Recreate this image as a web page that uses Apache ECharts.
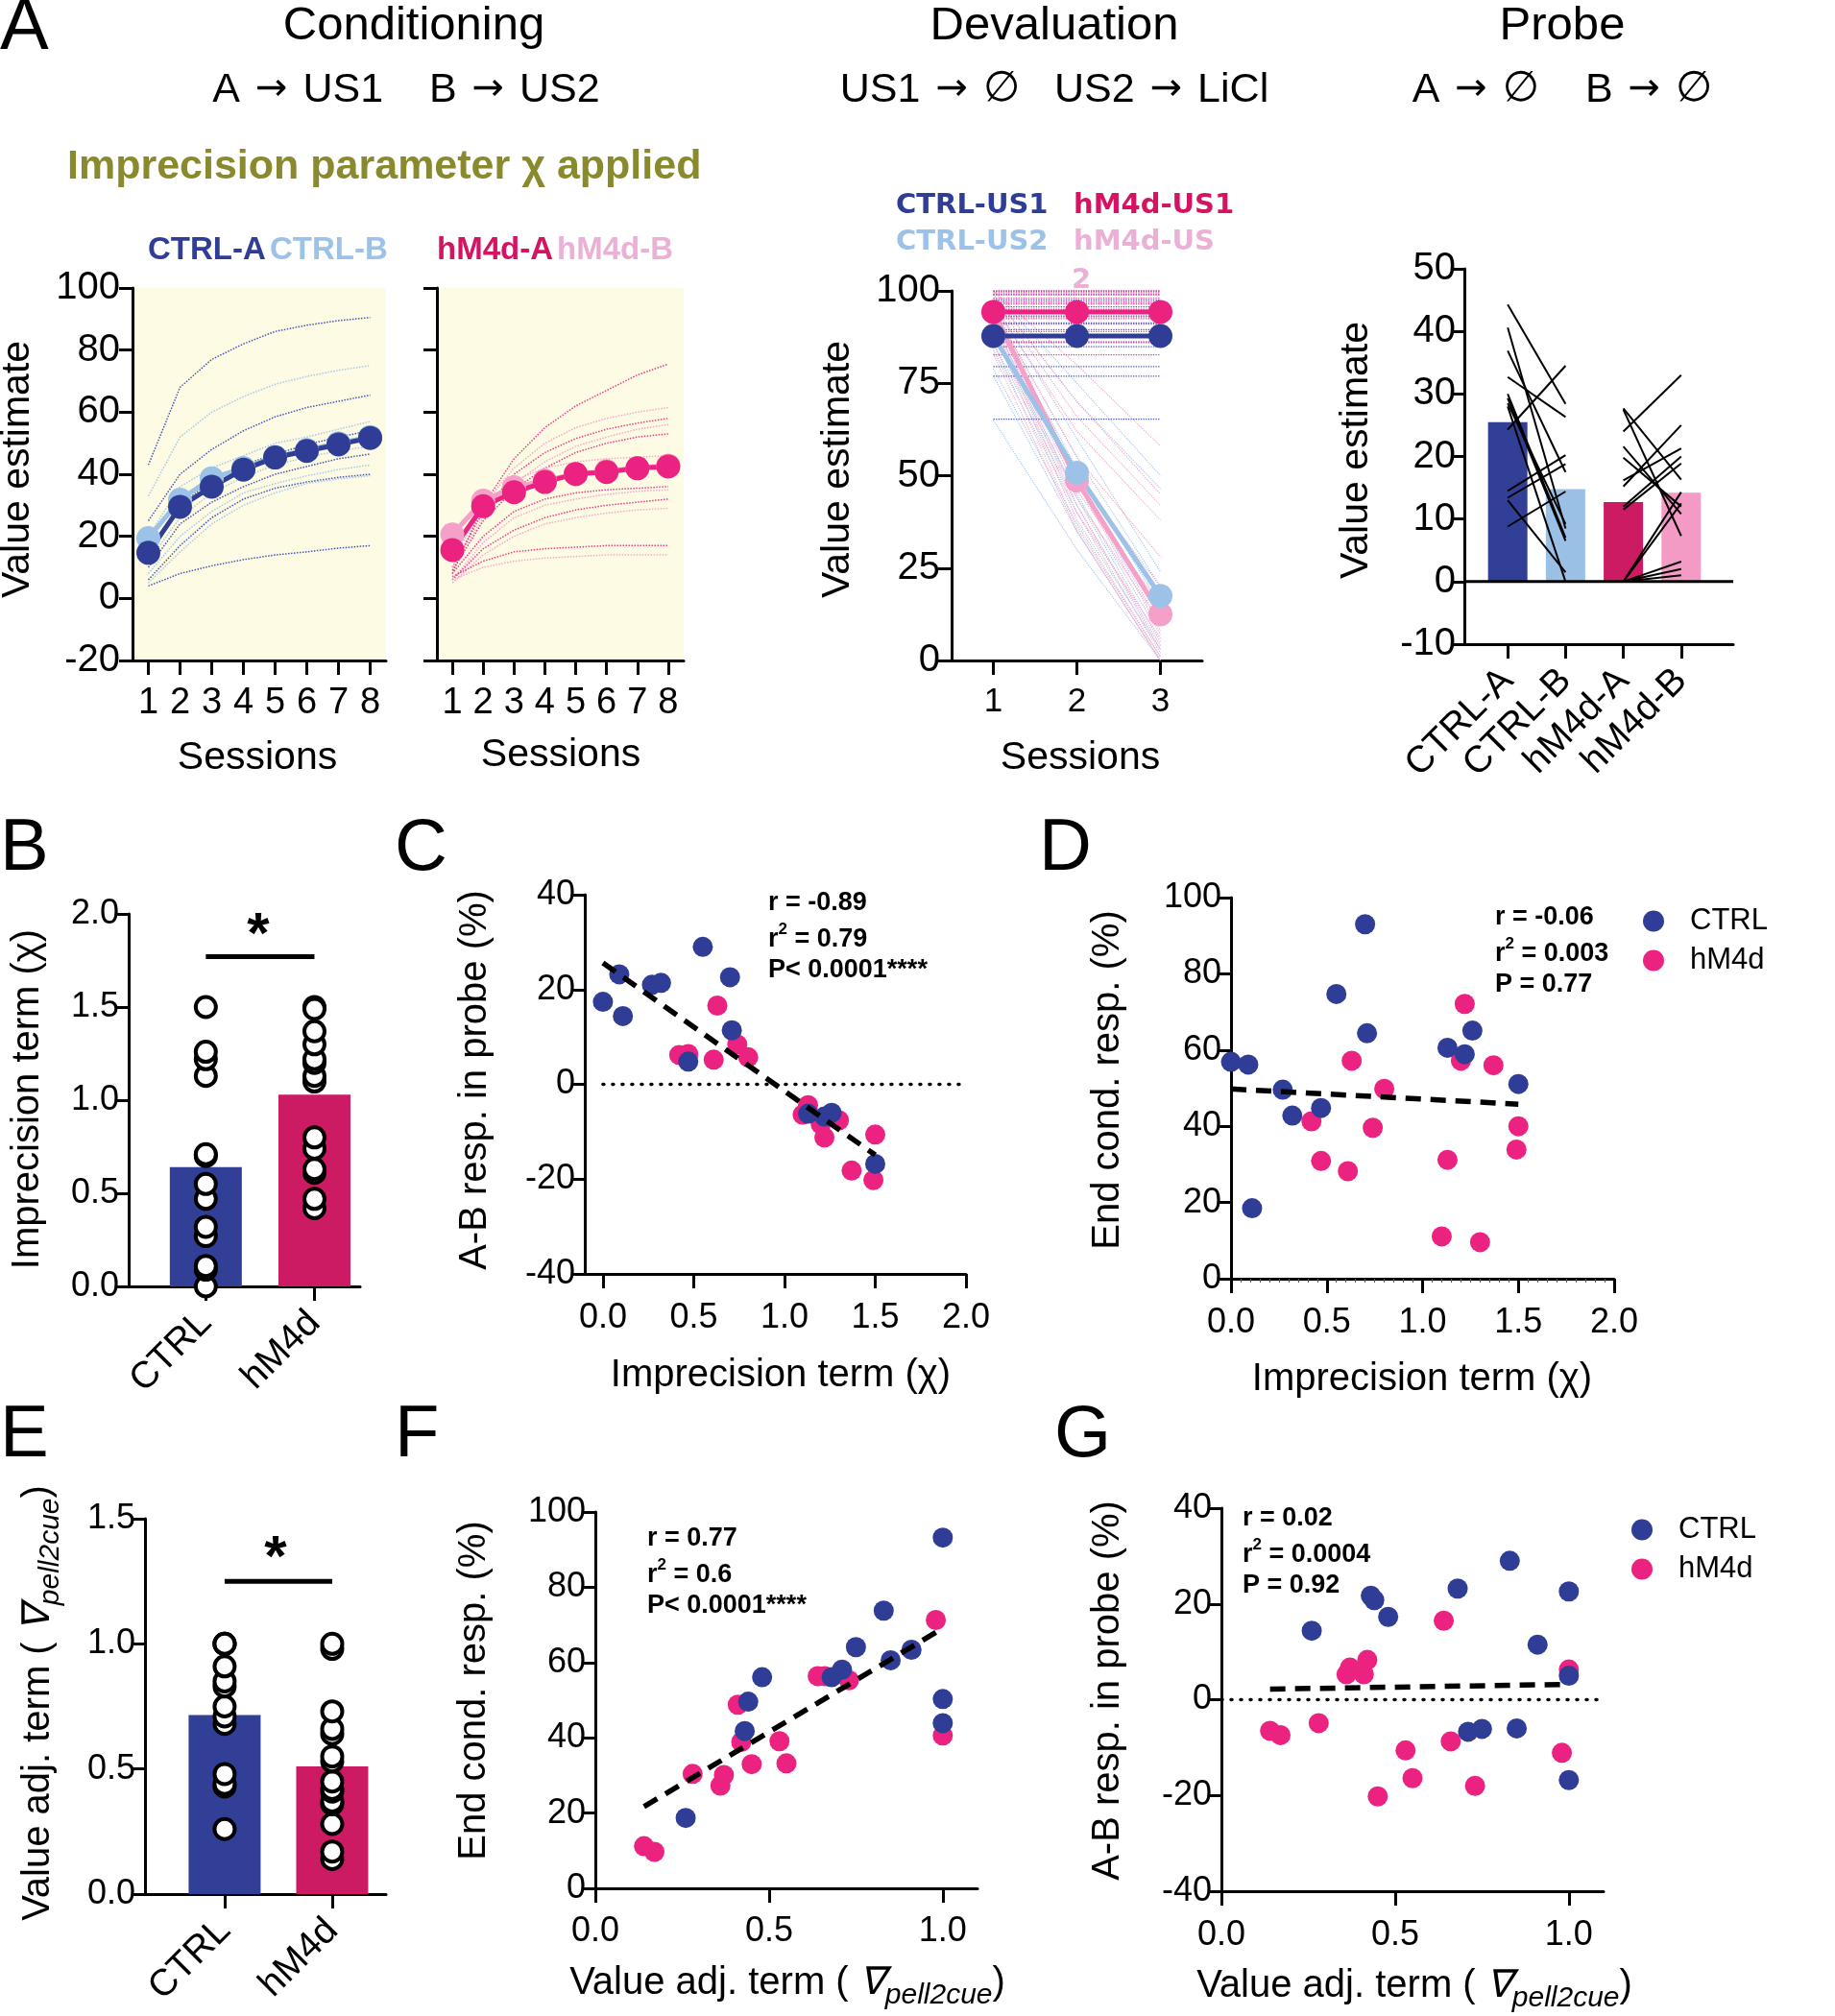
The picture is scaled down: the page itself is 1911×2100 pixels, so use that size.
<!DOCTYPE html>
<html><head><meta charset="utf-8">
<script src="https://cdn.jsdelivr.net/npm/echarts@6/dist/echarts.min.js"></script>
<style>html,body{margin:0;padding:0;background:#fff}#c{width:1911px;height:2100px}</style>
</head><body><div id="c"></div>
<script>
// ---------------- DATA ----------------
const sessions8 = [1,2,3,4,5,6,7,8];
const ctrlA_mean = [14.7, 29.5, 36, 41.5, 45.4, 47.5, 49.6, 51.7];
const ctrlB_mean = [19.4, 31.8, 38.7, 42, 45.6, 47.8, 50, 52];
const hm4dA_mean = [15.6, 29.7, 34.2, 37.5, 40.1, 40.7, 41.9, 42.5];
const hm4dB_mean = [20.6, 31.5, 35.8, 38, 40, 41, 42, 42.8];
const ctrlIndiv = [
  [43, 68, 77, 82, 86, 88, 89.5, 90.5],
  [33, 52, 60, 65, 69, 71.5, 73.5, 75],
  [25, 40, 48, 54, 58.5, 61.5, 63.5, 65.5],
  [20, 36, 42, 46, 50, 52, 54.5, 57],
  [15, 30, 38, 43, 46.5, 49.5, 52, 54],
  [12, 26, 34, 39, 43, 45.5, 47.5, 49],
  [10, 24, 31, 36, 40, 42.5, 45, 46.5],
  [8, 20, 28, 34, 37, 39.5, 41.5, 43],
  [6, 17, 26, 32, 35.5, 37.5, 39, 40],
  [5, 15, 24, 30, 34, 37, 38.5, 39.5],
  [4, 8, 10.5, 12.5, 14, 15, 16.2, 17]
];
const hm4dIndiv = [
  [8, 30, 45, 55, 62, 67, 72, 75.5],
  [12, 30, 42, 50, 55, 58, 60, 61.5],
  [10, 28, 40, 47, 51.5, 54.5, 56.5, 58],
  [10, 26, 37, 44, 49, 52, 54.5, 56],
  [9, 25, 35, 42, 47, 50, 52, 53],
  [14, 30, 38, 42, 44, 45, 45.5, 46],
  [8, 20, 28, 32, 34, 35, 35.5, 36],
  [6, 18, 26, 30, 32, 33.5, 34.5, 35],
  [6, 16, 22, 26, 28.5, 30, 31, 32],
  [5, 14, 20, 24, 26, 27.5, 28.5, 29],
  [7, 12, 15, 16, 16.5, 17, 17, 17],
  [6, 10, 12, 13, 13.5, 14, 14, 14]
];
const devalSessions = [1,2,3];
const ctrlUS1_mean = [87.8, 87.8, 87.8];
const hm4dUS1_mean = [94.3, 94.3, 94.3];
const ctrlUS2_mean = [87.8, 50.8, 17.5];
const hm4dUS2_mean = [94.3, 48.7, 12.5];
const ctrlUS1_indiv = [100, 99, 97.5, 95.7, 93.2, 91.3, 89.5, 88, 86.2, 84.9, 79.5, 76.9, 65.3];
const hm4dUS1_indiv = [100, 99.5, 99, 98, 97, 96.5, 95, 94, 93, 92.5, 91, 89, 86, 82.7];
const ctrlUS2_indiv = [[100,75,50],[99,70,46.5],[97,60,24],[95,55,20],[93,52,15],[91,48,10],[89,45,7],[88,44,5],[86,42,3],[84,40,2],[79,37,1],[77,35,0],[65,30,0]];
const hm4dUS2_indiv = [[100,80,58],[99,70,45],[98,66,42],[96,62,38],[95,55,28],[94,50,20],[93,46,15],[92,44,10],[90,40,6],[89,38,3],[86,36,1],[83,35,0],[97,48,8],[91,42,4]];
const probeCats = ['CTRL-A','CTRL-B','hM4d-A','hM4d-B'];
const probeBars = [25.5, 14.8, 12.7, 14.2];
const probeCtrlA = [44.3, 40.6, 36.9, 32.7, 24.3, 30, 29.3, 28.5, 28, 14.5, 13.4, 13, 8.8];
const probeCtrlB = [28.4, 8.5, 17.5, 26.3, 34.5, 7, 6.5, 9.2, 0, 20.2, 18.8, 1.5, 14.4];
const probeHm4dA = [27.7, 27.5, 24, 21.6, 19.8, 16.2, 15.2, 12, 11.5, 0, 0, 0, 0, 0];
const probeHm4dB = [16.3, 7.3, 33, 10.8, 12, 21.3, 25, 20, 18.9, 14.3, 12.5, 3.2, 2, 1];
const groups = ['CTRL', 'hM4d'];
const impMeans = [0.64, 1.03];
const impCtrl = [0, 0.09, 0.11, 0.27, 0.32, 0.47, 0.55, 0.70, 0.71, 1.13, 1.22, 1.26, 1.50];
const impHm4d = [0.42, 0.47, 0.61, 0.63, 0.74, 0.80, 1.10, 1.13, 1.20, 1.22, 1.30, 1.37, 1.50, 1.49];
const abCtrlC = [17.4, 23.2, 14.4, 21, 21.4, 4.8, 29, 22.6, 11.4, -6.2, -6.8, -6, -16.8];
const abHm4dC = [6.2, 6.4, 5.2, 16.6, 8.4, 5.7, -6.4, -4.4, -8.4, -11.2, -7.6, -18.2, -10.6, -20.2];
const endCtrlD = [56.9, 56.2, 18.5, 49.6, 42.8, 44.8, 74.7, 93, 64.4, 60.6, 58.9, 65.1, 51.1];
const endHm4dD = [41.3, 30.9, 28.2, 57.2, 39.6, 49.8, 11.1, 31.2, 57.2, 72.1, 9.6, 56, 40, 33.9];
const adjMeans = [0.715, 0.51];
const adjCtrl = [0.26, 0.43, 0.44, 0.48, 0.68, 0.71, 0.75, 0.83, 0.85, 0.91, 1.0, 1.0, 1.0];
const adjHm4d = [0.14, 0.17, 0.28, 0.36, 0.37, 0.41, 0.42, 0.45, 0.53, 0.55, 0.64, 0.66, 0.73, 0.98, 1.0];
const endCtrlF = [18.7, 41.8, 49.6, 56.1, 56.1, 58.1, 64.1, 73.8, 60.6, 63.4, 93.2, 50.3, 43.9];
const endHm4dF = [11.2, 9.7, 30.4, 27.3, 30.1, 48.8, 38.9, 33, 39.1, 33.2, 56.4, 56.4, 55.3, 71.3, 40.6];
const abCtrlG = [14.4, 21.7, 20.8, 17.3, 23.2, -6.7, -6.1, 29, -6, 11.5, 22.6, 5, -16.8];
const abHm4dG = [-6.5, -7.4, -4.9, 5.3, 6.7, 5.3, 8.3, -20.2, -10.6, -16.4, 16.5, -8.7, -18, -11.1, 6.3];
const regC = [[0, 25.6], [1.5, -14.9]];
const regD = [[0, 49.8], [1.5, 45.8]];
const regF = [[0.14, 21.7], [1.0, 69.1]];
const regG = [[0.14, 2.2], [1.0, 3.2]];
const sigB = 1.77, sigE = 1.25;
const statsC = ['r = -0.89', '0.79', 'P< 0.0001****'];
const statsD = ['r = -0.06', '0.003', 'P = 0.77'];
const statsF = ['r = 0.77', '0.6', 'P< 0.0001****'];
const statsG = ['r = 0.02', '0.0004', 'P = 0.92'];

// ---------------- STYLE ----------------
const FONT = 'Arial, "Liberation Sans", Helvetica, sans-serif';
const SYM = '"DejaVu Sans", sans-serif';
const C_DARK = '#2F3D96', C_LIGHT = '#9DC2E7';
const H_PINK = '#EC2280', H_LIGHT = '#F4A0C8', H_BAR = '#CC1B62';
const C_IND_D = '#4656B8', C_IND_L = '#A9C8EA', H_IND_D = '#EA3D8C', H_IND_L = '#F3A9CC';

function ax(extra) {
  const b = {
    axisLine: {show: true, onZero: false, lineStyle: {color: '#000', width: 3}},
    axisTick: {show: true, length: 14, lineStyle: {color: '#000', width: 3}},
    axisLabel: {color: '#000', fontFamily: FONT, fontSize: 36, margin: 10},
    splitLine: {show: false}
  };
  for (const k in extra) {
    if (b[k] && typeof extra[k] === 'object' && !Array.isArray(extra[k])) b[k] = Object.assign({}, b[k], extra[k]);
    else b[k] = extra[k];
  }
  return b;
}
const f1 = v => v.toFixed(1);

const grids = [
  {left: 138, top: 300, width: 264, height: 388, show: true, backgroundColor: '#FDFBE3', borderWidth: 0}, // A1
  {left: 455, top: 300, width: 257, height: 388, show: true, backgroundColor: '#FDFBE3', borderWidth: 0}, // A2
  {left: 991, top: 303, width: 261, height: 385}, // A3
  {left: 1525, top: 280, width: 280, height: 391}, // A4
  {left: 134, top: 952, width: 241, height: 388}, // B
  {left: 609, top: 932, width: 397, height: 395}, // C
  {left: 1282, top: 935, width: 399, height: 397}, // D
  {left: 151, top: 1582, width: 251, height: 391}, // E
  {left: 620, top: 1575, width: 398, height: 392}, // F
  {left: 1272, top: 1571, width: 398, height: 399}  // G
].map(g => Object.assign({containLabel: false, outerBoundsMode: 'none'}, g));

const PROBE_X0 = 0.75;
const probePos = probeCats.map((_, i) => PROBE_X0 + i);
const catLabel = {rotate: 45, margin: 32, fontSize: 39};

const xAxis = [
  ax({type: 'category', gridIndex: 0, data: sessions8.map(String), axisTick: {alignWithLabel: true, length: 15}, axisLabel: {interval: 0, margin: 26, fontSize: 38}}),
  ax({type: 'category', gridIndex: 1, data: sessions8.map(String), axisTick: {alignWithLabel: true, length: 15}, axisLabel: {interval: 0, margin: 26, fontSize: 38}}),
  ax({type: 'category', gridIndex: 2, data: devalSessions.map(String), axisTick: {alignWithLabel: true, length: 15}, axisLabel: {interval: 0, margin: 26, fontSize: 35}}),
  ax({type: 'value', gridIndex: 3, min: 0, max: 4.65, axisTick: {customValues: probePos, length: 15}, axisLabel: Object.assign({customValues: probePos, formatter: v => probeCats[Math.round(v - PROBE_X0)]}, catLabel)}),
  ax({type: 'value', gridIndex: 4, min: 0.29, max: 2.42, axisTick: {customValues: [1, 2], length: 15}, axisLabel: Object.assign({customValues: [1, 2], formatter: v => groups[Math.round(v) - 1]}, catLabel)}),
  ax({type: 'value', gridIndex: 5, min: -0.1, max: 2, axisTick: {customValues: [0, 0.5, 1, 1.5, 2], length: 15}, axisLabel: {customValues: [0, 0.5, 1, 1.5, 2], formatter: f1, margin: 28}}),
  ax({type: 'value', gridIndex: 6, min: 0, max: 2, interval: 0.5, axisTick: {length: 15}, minorTick: {show: true, splitNumber: 10, length: 4, lineStyle: {color: '#555', width: 1}}, axisLabel: {formatter: f1, margin: 28}}),
  ax({type: 'value', gridIndex: 7, min: 0.26, max: 2.5, axisTick: {customValues: [1, 2], length: 15}, axisLabel: Object.assign({customValues: [1, 2], formatter: v => groups[Math.round(v) - 1]}, catLabel)}),
  ax({type: 'value', gridIndex: 8, min: 0, max: 1.1, axisTick: {customValues: [0, 0.5, 1], length: 15}, axisLabel: {customValues: [0, 0.5, 1], formatter: f1, margin: 27}}),
  ax({type: 'value', gridIndex: 9, min: 0, max: 1.1, axisTick: {customValues: [0, 0.5, 1], length: 15}, axisLabel: {customValues: [0, 0.5, 1], formatter: f1, margin: 28}})
];
const yAxis = [
  ax({type: 'value', gridIndex: 0, min: -20, max: 100, interval: 20, axisLabel: {fontSize: 40, margin: 13}}),
  ax({type: 'value', gridIndex: 1, min: -20, max: 100, interval: 20, axisLabel: {show: false}}),
  ax({type: 'value', gridIndex: 2, min: 0, max: 100, interval: 25, axisLabel: {fontSize: 40, margin: 12}}),
  ax({type: 'value', gridIndex: 3, min: -10, max: 50, interval: 10, axisLabel: {fontSize: 40, margin: 9}}),
  ax({type: 'value', gridIndex: 4, min: 0, max: 2, interval: 0.5, axisLabel: {formatter: f1}}),
  ax({type: 'value', gridIndex: 5, min: -40, max: 40, interval: 20}),
  ax({type: 'value', gridIndex: 6, min: 0, max: 100, interval: 20}),
  ax({type: 'value', gridIndex: 7, min: 0, max: 1.5, interval: 0.5, axisLabel: {formatter: f1}}),
  ax({type: 'value', gridIndex: 8, min: 0, max: 100, interval: 20}),
  ax({type: 'value', gridIndex: 9, min: -40, max: 40, interval: 20})
];

const series = [];
function L(gi, data, color, width, extra) {
  return Object.assign({type: 'line', xAxisIndex: gi, yAxisIndex: gi, data, symbol: 'none', silent: true,
    lineStyle: {color, width}}, extra || {});
}
function meanLine(gi, data, color) {
  return {type: 'line', xAxisIndex: gi, yAxisIndex: gi, data, symbol: 'circle', symbolSize: 25, silent: true,
    lineStyle: {color, width: 5}, itemStyle: {color}};
}
// A1 / A2
ctrlIndiv.forEach((arr, i) => series.push(L(0, arr, 0, 0, {lineStyle: {color: i % 2 ? C_IND_L : C_IND_D, width: 1.5, type: 'dotted'}})));
series.push(meanLine(0, ctrlB_mean, C_LIGHT));
series.push(meanLine(0, ctrlA_mean, C_DARK));
hm4dIndiv.forEach((arr, i) => series.push(L(1, arr, 0, 0, {lineStyle: {color: i % 2 ? H_IND_L : H_IND_D, width: 1.5, type: 'dotted'}})));
series.push(meanLine(1, hm4dB_mean, H_LIGHT));
series.push(meanLine(1, hm4dA_mean, H_PINK));
// A3
ctrlUS2_indiv.forEach(arr => series.push(L(2, arr, 0, 0, {lineStyle: {color: C_IND_L, width: 1.2, type: 'dotted'}})));
hm4dUS2_indiv.forEach(arr => series.push(L(2, arr, 0, 0, {lineStyle: {color: H_IND_L, width: 1.2, type: 'dotted'}})));
ctrlUS1_indiv.forEach(v => series.push(L(2, devalSessions.map(() => v), 0, 0, {lineStyle: {color: C_IND_D, width: 1.3, type: 'dotted'}})));
hm4dUS1_indiv.forEach(v => series.push(L(2, devalSessions.map(() => v), 0, 0, {lineStyle: {color: H_IND_D, width: 1.3, type: 'dotted'}})));
series.push(meanLine(2, hm4dUS2_mean, H_LIGHT));
series.push(meanLine(2, ctrlUS2_mean, C_LIGHT));
series.push(meanLine(2, hm4dUS1_mean, H_PINK));
series.push(meanLine(2, ctrlUS1_mean, C_DARK));
// A4
const probeColors = ['#323F96', '#9BC0E5', '#CC1B62', '#F39BC4'];
series.push({type: 'bar', xAxisIndex: 3, yAxisIndex: 3, barWidth: 41, silent: true,
  data: probeBars.map((v, i) => ({value: [probePos[i], v], itemStyle: {color: probeColors[i]}}))});
series.push(L(3, [[0, 0], [4.65, 0]], '#000', 3));
probeCtrlA.forEach((a, i) => series.push(L(3, [[probePos[0], a], [probePos[1], probeCtrlB[i]]], '#000', 2)));
probeHm4dA.forEach((a, i) => series.push(L(3, [[probePos[2], a], [probePos[3], probeHm4dB[i]]], '#000', 2)));
// B and E bar panels
function barPanel(gi, means, ctrlVals, hVals, sig) {
  series.push({type: 'bar', xAxisIndex: gi, yAxisIndex: gi, barWidth: 75, silent: true,
    data: means.map((v, i) => ({value: [i + 1, v], itemStyle: {color: i ? H_BAR : '#323F96'}}))});
  series.push({type: 'scatter', xAxisIndex: gi, yAxisIndex: gi, symbolSize: 21, silent: true,
    itemStyle: {color: '#fff', borderColor: '#000', borderWidth: 4, opacity: 1},
    data: ctrlVals.map(v => [1, v]).concat(hVals.map(v => [2, v]))});
  series.push(L(gi, [[1, sig], [2, sig]], '#000', 5));
}
barPanel(4, impMeans, impCtrl, impHm4d, sigB);
barPanel(7, adjMeans, adjCtrl, adjHm4d, sigE);
// scatter panels
function scat(gi, name, xs, ys, color) {
  return {type: 'scatter', name, xAxisIndex: gi, yAxisIndex: gi, symbolSize: 21, silent: true,
    itemStyle: {color, opacity: 1}, data: xs.map((x, i) => [x, ys[i]])};
}
const DOT = {color: '#000', width: 3.5, type: [1, 9], cap: 'round'};
const DASH = {color: '#000', width: 5.5, type: [16, 10]};
// C
series.push(L(5, [[0, 0], [2, 0]], 0, 0, {lineStyle: DOT}));
series.push(scat(5, 'hM4d', impHm4d, abHm4dC, H_PINK));
series.push(scat(5, 'CTRL', impCtrl, abCtrlC, C_DARK));
series.push(L(5, regC, 0, 0, {lineStyle: DASH, z: 5}));
// D
series.push(scat(6, 'hM4d', impHm4d, endHm4dD, H_PINK));
series.push(scat(6, 'CTRL', impCtrl, endCtrlD, C_DARK));
series.push(L(6, regD, 0, 0, {lineStyle: DASH, z: 5}));
// F
series.push(scat(8, 'hM4d', adjHm4d, endHm4dF, H_PINK));
series.push(scat(8, 'CTRL', adjCtrl, endCtrlF, C_DARK));
series.push(L(8, regF, 0, 0, {lineStyle: DASH, z: 5}));
// G
series.push(L(9, [[0, 0], [1.1, 0]], 0, 0, {lineStyle: DOT}));
series.push(scat(9, 'hM4d', adjHm4d, abHm4dG, H_PINK));
series.push(scat(9, 'CTRL', adjCtrl, abCtrlG, C_DARK));
series.push(L(9, regG, 0, 0, {lineStyle: DASH, z: 5}));

// ---------------- TEXT ----------------
function T(text, x, y, size, o) {
  o = o || {};
  return {type: 'text', x, y, rotation: o.rot || 0, silent: true, z: 100,
    style: Object.assign({text, x: 0, y: 0, fontSize: size, fontFamily: o.family || FONT,
      fontWeight: o.bold ? 'bold' : 'normal', fill: o.color || '#000',
      align: o.align || 'center', verticalAlign: 'middle'}, o.style || {})};
}
// header with full-size arrows / empty-set symbols
function H(text, x, y) {
  const rich = {
    t: {fontSize: 43, fontFamily: FONT, lineHeight: 52},
    a: {fontSize: 40, fontFamily: SYM, lineHeight: 52, padding: [0, 4, 0, 4]},
    e: {fontSize: 44, fontFamily: SYM, lineHeight: 52}
  };
  const str = text.split(/(\u2192|\u2205)/).filter(s => s.length).map(s =>
    s === '\u2192' ? '{a|\u2192}' : s === '\u2205' ? '{e|\u2205}' : '{t|' + s + '}').join('');
  return T('', x, y, 43, {style: {text: str, rich}});
}
const R90 = Math.PI / 2;
const adjTitle = {
  text: '{n|Value adj. term ( }{i|\u2207}{s|pell2cue}{n|)}',
  rich: {
    n: {fontSize: 40, fontFamily: FONT, lineHeight: 56, verticalAlign: 'middle'},
    i: {fontSize: 40, fontFamily: FONT, fontStyle: 'italic', lineHeight: 56, verticalAlign: 'middle'},
    s: {fontSize: 30, fontFamily: FONT, fontStyle: 'italic', lineHeight: 28, verticalAlign: 'bottom'}
  }
};
function stats(lines, x, y0, gap) {
  const rb = {fontSize: 27, fontWeight: 'bold', fontFamily: FONT, lineHeight: 32, verticalAlign: 'bottom'};
  const rs = {fontSize: 17, fontWeight: 'bold', fontFamily: FONT, lineHeight: 32, verticalAlign: 'top'};
  return [
    T(lines[0], x, y0, 27, {bold: true, align: 'left'}),
    T('', x, y0 + gap, 27, {align: 'left', style: {text: '{b|r}{s|2}{b| = ' + lines[1] + '}', rich: {b: rb, s: rs}}}),
    T(lines[2], x, y0 + 2 * gap, 27, {bold: true, align: 'left'})
  ];
}
const graphic = [
  T('A', 0, 30, 76, {align: 'left'}),
  T('Conditioning', 431, 27, 49),
  H('A \u2192 US1    B \u2192 US2', 423, 94),
  T('Devaluation', 1098, 27, 49),
  H('US1 \u2192 \u2205   US2 \u2192 LiCl', 1098, 94),
  T('Probe', 1627, 27, 49),
  H('A \u2192 \u2205    B \u2192 \u2205', 1627, 94),
  T('Imprecision parameter \u03C7 applied', 70, 174, 43, {bold: true, align: 'left', color: '#898A2E'}),
  T('CTRL-A', 154, 261, 33, {bold: true, align: 'left', color: C_DARK}),
  T('CTRL-B', 281, 261, 33, {bold: true, align: 'left', color: C_LIGHT}),
  T('hM4d-A', 455, 261, 33, {bold: true, align: 'left', color: '#D41462'}),
  T('hM4d-B', 580, 261, 33, {bold: true, align: 'left', color: '#EBB0D5'}),
  T('CTRL-US1', 933, 214, 29, {bold: true, align: 'left', color: C_DARK, family: SYM}),
  T('hM4d-US1', 1118, 214, 29, {bold: true, align: 'left', color: '#D41462', family: SYM}),
  T('CTRL-US2', 933, 252, 29, {bold: true, align: 'left', color: C_LIGHT, family: SYM}),
  T('hM4d-US', 1118, 252, 29, {bold: true, align: 'left', color: '#EBB0D5', family: SYM}),
  T('2', 1116, 292, 29, {bold: true, align: 'left', color: '#EBB0D5', family: SYM}),
  T('Value estimate', 19, 489, 41, {rot: R90}),
  T('Sessions', 268, 790, 41),
  T('Sessions', 584, 787, 41),
  T('Value estimate', 873, 489, 41, {rot: R90}),
  T('Sessions', 1125, 790, 41),
  T('Value estimate', 1413, 469, 41, {rot: R90}),
  T('B', 0, 885, 76, {align: 'left'}),
  T('C', 411, 885, 76, {align: 'left'}),
  T('D', 1082, 885, 76, {align: 'left'}),
  T('E', 0, 1496, 76, {align: 'left'}),
  T('F', 411, 1496, 76, {align: 'left'}),
  T('G', 1098, 1496, 76, {align: 'left'}),
  T('Imprecision term (\u03C7)', 29, 1145, 40, {rot: R90}),
  T('*', 269, 975, 60, {bold: true}),
  T('*', 287, 1624, 60, {bold: true}),
  T('A-B resp. in probe (%)', 495, 1125, 40, {rot: R90}),
  T('Imprecision term (\u03C7)', 813, 1433, 40),
  T('End cond. resp. (%)', 1154, 1125, 40, {rot: R90}),
  T('Imprecision term (\u03C7)', 1481, 1437, 40),
  T('', 40, 1774, 40, {rot: R90, style: adjTitle}),
  T('End cond. resp. (%)', 494, 1761, 40, {rot: R90}),
  T('', 820, 2066, 40, {style: adjTitle}),
  T('A-B resp. in probe (%)', 1154, 1761, 40, {rot: R90}),
  T('', 1473, 2069, 40, {style: adjTitle})
].concat(stats(statsC, 800, 941, 35), stats(statsD, 1557, 956, 35), stats(statsF, 674, 1603, 35), stats(statsG, 1294, 1582, 35));

const legendBase = {data: groups, orient: 'vertical', icon: 'circle', itemWidth: 22, itemHeight: 22, itemGap: 10,
  selectedMode: false, textStyle: {fontSize: 31, fontFamily: FONT, color: '#000', padding: [0, 0, 0, 22]}};
const legend = [
  Object.assign({left: 1706, top: 939}, legendBase),
  Object.assign({left: 1694, top: 1573}, legendBase)
];

const chart = echarts.init(document.getElementById('c'), null, {renderer: 'canvas'});
chart.setOption({animation: false, backgroundColor: '#fff', grid: grids, xAxis, yAxis, series, graphic, legend});
</script></body></html>
